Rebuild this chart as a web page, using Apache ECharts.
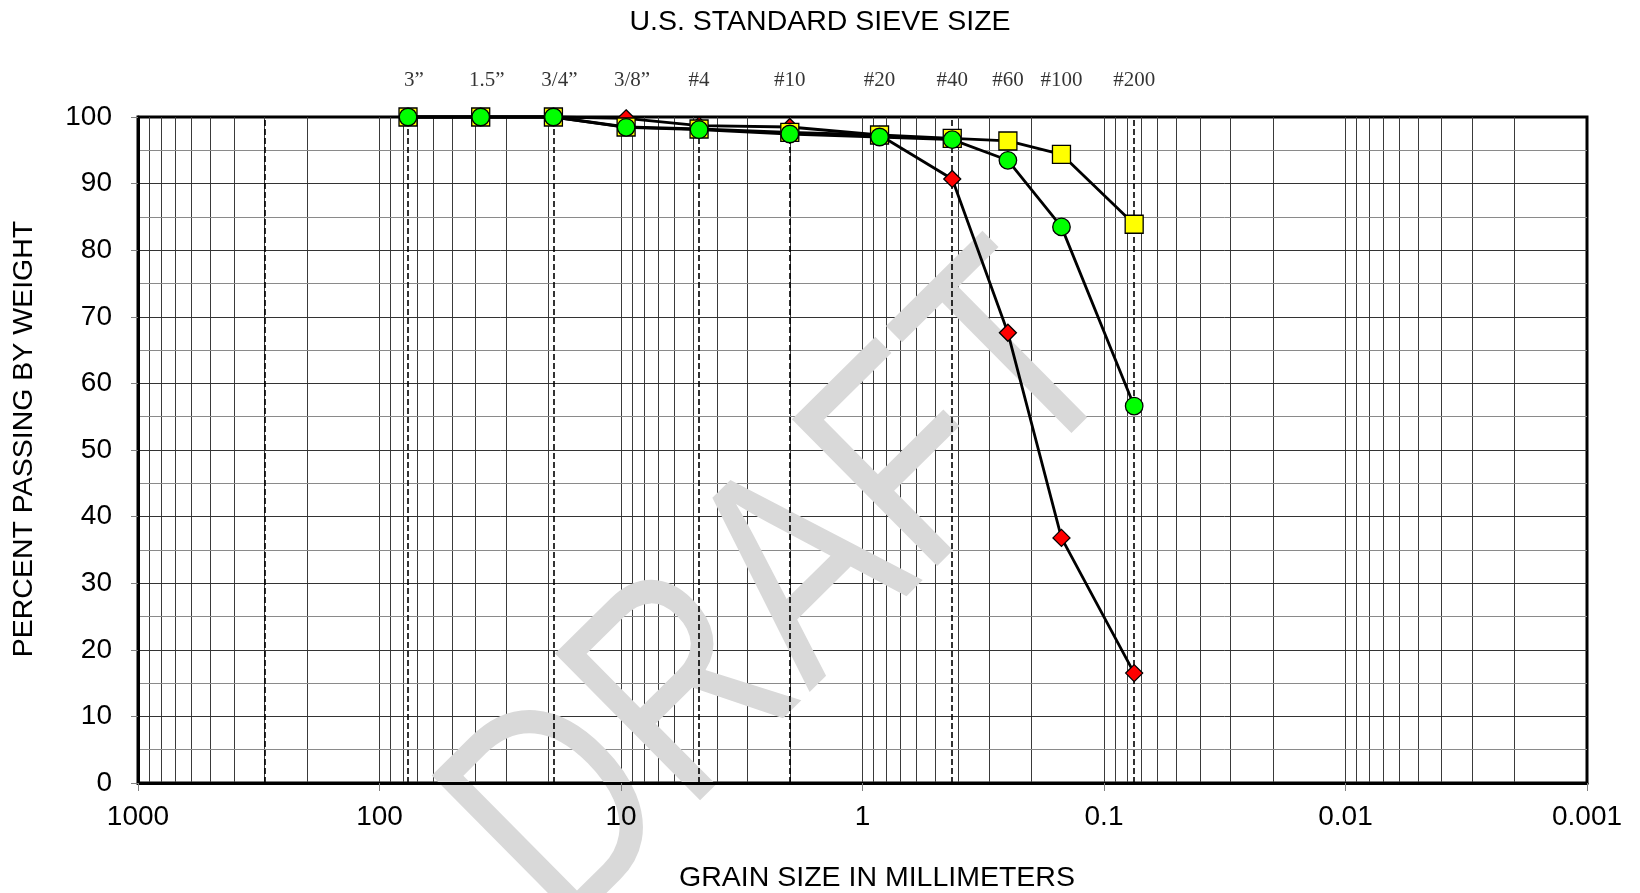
<!DOCTYPE html>
<html><head><meta charset="utf-8">
<script src="https://cdn.jsdelivr.net/npm/echarts@6/dist/echarts.min.js"></script>
<style>html,body{margin:0;padding:0;background:#fff}#c{width:1640px;height:893px}</style>
</head><body><div id="c"></div>
<script>
// ---- data ----
const sieveLabels = ['3\u201D', '1.5\u201D', '3/4\u201D', '3/8\u201D', '#4', '#10', '#20', '#40', '#60', '#100', '#200'];
const sieveSizes = [76.2, 38.1, 19.05, 9.525, 4.75, 2.0, 0.85, 0.425, 0.25, 0.15, 0.075];
const redPassing = [100, 100, 100, 99.8, 98.7, 98.5, 97.3, 90.7, 67.6, 36.8, 16.5];
const yellowPassing = [100, 100, 100, 98.5, 98.2, 97.7, 97.3, 96.8, 96.4, 94.4, 83.9];
const greenPassing = [100, 100, 100, 98.45, 98.1, 97.45, 97.0, 96.6, 93.5, 83.5, 56.6];
const boundarySizes = [300, 76.2, 19.05, 4.75, 2.0, 0.425, 0.075];
const xTickLabels = ['0.001', '0.01', '0.1', '1', '10', '100', '1000'];
const yTickLabels = ['0', '10', '20', '30', '40', '50', '60', '70', '80', '90', '100'];

// ---- scaffolding ----
const vGrid = [];
for (let k = -3; k <= 2; k++) for (let m = 1; m <= 9; m++) {
  const v = +(m * Math.pow(10, k)).toPrecision(3);
  if (v > 0.001 && v < 1000) vGrid.push(v);
}
const hGrid = [];
for (let v = 5; v < 100; v += 5) hGrid.push(v);

const chart = echarts.init(document.getElementById('c'), null, { renderer: 'canvas' });
const FONT = 'Arial, "Liberation Sans", sans-serif';

function pts(vals) { return sieveSizes.map((s, i) => [s, vals[i]]); }
function dataSeries(name, vals, symbol, size, color) {
  return {
    name, type: 'line', z: 4, clip: false, animation: false,
    data: pts(vals), symbol, symbolSize: size, showSymbol: true,
    lineStyle: { color: '#000', width: 2.8 },
    itemStyle: { color, borderColor: '#000', borderWidth: 1.3 },
    emphasis: { disabled: true }
  };
}

const option = {
  animation: false,
  backgroundColor: '#fff',
  grid: { left: 138, right: 53, top: 117, bottom: 110, show: true, borderColor: '#000', borderWidth: 3, z: 0 },
  xAxis: {
    type: 'log', logBase: 10, min: 0.001, max: 1000, inverse: true, splitNumber: 6, z: 5,
    axisLine: { show: true, lineStyle: { color: '#000', width: 3 } },
    axisTick: { show: true, length: 8, lineStyle: { color: '#808080', width: 1 } },
    axisLabel: { margin: 20, fontSize: 28, color: '#000', fontFamily: FONT, showMinLabel: true, showMaxLabel: true,
      formatter: v => xTickLabels[Math.round(Math.log10(v)) + 3] },
    splitLine: { show: false }
  },
  yAxis: {
    type: 'value', min: 0, max: 100, interval: 10, z: 5,
    axisLine: { show: true, lineStyle: { color: '#000', width: 3 } },
    axisTick: { show: true, length: 7, lineStyle: { color: '#808080', width: 1 } },
    axisLabel: { margin: 26, fontSize: 28, color: '#000', fontFamily: FONT,
      formatter: v => yTickLabels[Math.round(v / 10)] },
    splitLine: { show: false }
  },
  graphic: [
    { type: 'text', x: 820, y: 22, z: 10, style: { text: 'U.S. STANDARD SIEVE SIZE', font: '28.5px ' + FONT, fill: '#000', textAlign: 'center', textVerticalAlign: 'middle' } },
    { type: 'text', x: 877, y: 878, z: 10, style: { text: 'GRAIN SIZE IN MILLIMETERS', font: '28.5px ' + FONT, fill: '#000', textAlign: 'center', textVerticalAlign: 'middle' } },
    { type: 'text', x: 24, y: 439, rotation: Math.PI / 2, z: 10, style: { text: 'PERCENT PASSING BY WEIGHT', font: '28.5px ' + FONT, fill: '#000', textAlign: 'center', textVerticalAlign: 'middle' } },
    { type: 'text', x: 789, y: 596, rotation: 0.78, scaleX: 0.8, scaleY: 1, z: 2, silent: true, style: { text: 'DRAFT', font: '300px ' + FONT, fill: '#d9d9d9', textAlign: 'center', textVerticalAlign: 'middle' } }
  ],
  series: [
    {
      name: 'grid', type: 'line', data: [], z: 1,
      markLine: {
        z: 1, silent: true, animation: false, precision: 10, symbol: ['none', 'none'], label: { show: false },
        lineStyle: { type: 'solid', width: 1, color: '#3a3a3a' },
        emphasis: { disabled: true },
        data: vGrid.map(v => ({ xAxis: v }))
          .concat(hGrid.map(v => ({ yAxis: v, lineStyle: { color: v % 10 === 0 ? '#333' : '#8a8a8a', width: 1, type: 'solid' } })))
      }
    },
    {
      name: 'bounds', type: 'line', data: [], z: 3,
      markLine: {
        z: 3, silent: true, animation: false, precision: 10, symbol: ['none', 'none'], label: { show: false },
        lineStyle: { type: [6, 3], width: 1.6, color: '#000' },
        emphasis: { disabled: true },
        data: boundarySizes.map(v => ({ xAxis: v }))
      }
    },
    dataSeries('red', redPassing, 'diamond', 17, '#ff0000'),
    dataSeries('yellow', yellowPassing, 'rect', 18, '#ffff00'),
    dataSeries('green', greenPassing, 'circle', 17.5, '#00ff00'),
    {
      name: 'sieves', type: 'scatter', z: 6, clip: false, symbolSize: 1,
      itemStyle: { color: 'rgba(0,0,0,0)' },
      emphasis: { disabled: true },
      data: sieveSizes.map((s, i) => ({
        value: [s, 100],
        label: { offset: [sieveLabels[i].indexOf('\u201D') >= 0 ? 6 : 0, -37] }
      })),
      label: { show: true, position: 'inside', fontFamily: '"Times New Roman", "Liberation Serif", serif', fontSize: 21, color: '#000',
        formatter: p => sieveLabels[p.dataIndex] }
    }
  ]
};
chart.setOption(option);
</script>
</body></html>
